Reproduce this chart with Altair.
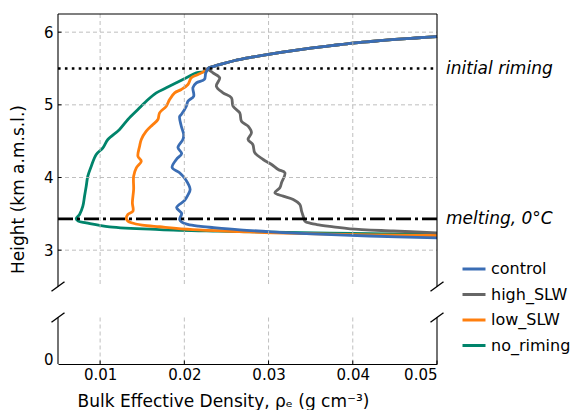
import altair as alt
import pandas as pd

series_names = ["control", "high_SLW", "low_SLW", "no_riming"]
series_colors = ["#3A6DB4", "#666666", "#FF7F0E", "#00846B"]
draw_order = ["no_riming", "low_SLW", "high_SLW", "control"]

# shared upper part (above the initial riming level)
top_x = [0.050, 0.0475, 0.045, 0.0425, 0.040, 0.0375, 0.035, 0.0325, 0.030, 0.028, 0.026, 0.0245, 0.0235, 0.0228]
top_y = [5.94, 5.92, 5.90, 5.875, 5.85, 5.815, 5.78, 5.74, 5.695, 5.655, 5.61, 5.565, 5.53, 5.50]

control_x = [0.02253, 0.02238, 0.02143, 0.02102, 0.02111, 0.02043, 0.02024, 0.01964, 0.01944, 0.01964,
             0.01992, 0.01983, 0.01924, 0.01968, 0.01905, 0.01855, 0.01944, 0.02015, 0.02069, 0.02039,
             0.02004, 0.01908, 0.01968, 0.01944, 0.0197, 0.0204, 0.0217, 0.0235, 0.0266, 0.0300,
             0.0337, 0.0420, 0.0500]
control_y = [5.431, 5.349, 5.303, 5.238, 5.119, 5.050, 4.981, 4.867, 4.839, 4.706,
             4.592, 4.523, 4.413, 4.330, 4.248, 4.138, 4.065, 3.972, 3.835, 3.752,
             3.684, 3.587, 3.505, 3.422, 3.385, 3.355, 3.33, 3.31, 3.28, 3.255,
             3.23, 3.195, 3.170]

high_x = [0.02340, 0.02420, 0.02380, 0.02459, 0.02559, 0.02578, 0.02658, 0.02678, 0.02757, 0.02797,
          0.02757, 0.02813, 0.02837, 0.02936, 0.03036, 0.03115, 0.03194, 0.03154, 0.03134, 0.03075,
          0.03174, 0.03293, 0.03372, 0.03392, 0.03412, 0.03432, 0.0350, 0.03571, 0.03769, 0.03967,
          0.04478, 0.0500]
high_y = [5.441, 5.372, 5.257, 5.166, 5.097, 4.981, 4.890, 4.775, 4.706, 4.615,
          4.523, 4.454, 4.340, 4.248, 4.179, 4.110, 4.065, 3.927, 3.858, 3.789,
          3.743, 3.697, 3.628, 3.536, 3.467, 3.399, 3.37, 3.353, 3.322, 3.294,
          3.264, 3.239]

low_x = [0.02241, 0.02162, 0.02083, 0.02043, 0.01964, 0.01885, 0.01825, 0.01786, 0.01706, 0.01686,
         0.01627, 0.01548, 0.01489, 0.01469, 0.01449, 0.01489, 0.01430, 0.01398, 0.01398, 0.01383,
         0.01390, 0.01330, 0.01311, 0.01330, 0.01371, 0.0150, 0.01707, 0.02102, 0.02658, 0.03054,
         0.04243, 0.0500]
low_y = [5.463, 5.417, 5.372, 5.280, 5.211, 5.165, 5.073, 4.981, 4.890, 4.798,
         4.729, 4.637, 4.523, 4.430, 4.293, 4.224, 4.133, 4.018, 3.835, 3.652,
         3.537, 3.491, 3.432, 3.400, 3.377, 3.345, 3.322, 3.284, 3.257, 3.239,
         3.209, 3.202]

norime_x = [0.02262, 0.02143, 0.02024, 0.01905, 0.01786, 0.01667, 0.01548, 0.01449, 0.01330, 0.01231,
            0.01092, 0.01033, 0.00954, 0.00895, 0.00854, 0.00835, 0.00815, 0.00795, 0.00756, 0.00716,
            0.00740, 0.00835, 0.01112, 0.01706, 0.0240, 0.0305, 0.0400, 0.0500]
norime_y = [5.463, 5.441, 5.372, 5.303, 5.234, 5.165, 5.050, 4.936, 4.798, 4.661,
            4.523, 4.409, 4.317, 4.156, 4.018, 3.880, 3.743, 3.605, 3.491, 3.432,
            3.400, 3.377, 3.322, 3.284, 3.262, 3.247, 3.230, 3.215]

riming_level = 5.5
melting_level = 3.43
annot_labels = ["initial riming", "melting, 0\u00b0C"]

x_ticks = [0.01, 0.02, 0.03, 0.04, 0.05]
y_ticks = [0, 3, 4, 5, 6]
grid_x = [0.01, 0.02, 0.03, 0.04]
grid_y = [3, 4, 5, 6]

# ---------------- layout constants (pixels) ----------------
W, H = 379, 350
TOP_END = 272.5      # bottom of upper panel
BOT_START = 303.5    # top of lower panel

rows = []
for name, xs, ys in [("control", control_x, control_y), ("high_SLW", high_x, high_y),
                     ("low_SLW", low_x, low_y), ("no_riming", norime_x, norime_y)]:
    allx = top_x + xs
    ally = top_y + ys
    for i, (a, b) in enumerate(zip(allx, ally)):
        rows.append({"series": name, "x": a, "y": b, "i": i})
df = pd.DataFrame(rows)

xscale = alt.Scale(domain=[0.005, 0.05], nice=False, zero=False)
# broken axis: lower panel [-0.05, 0.45], upper panel [2.5, 6.25]
yscale = alt.Scale(domain=[-0.05, 0.45, 2.5, 6.25], range=[H, BOT_START, TOP_END, 0], nice=False, zero=False)

XTITLE = "Bulk Effective Density, \u03c1\u2091 (g cm\u207b\u00b3)"
YTITLE = "Height (km a.m.s.l.)"

xaxis = alt.Axis(values=x_ticks, format=".2f", grid=False, ticks=False, domain=True,
                 domainColor="black", domainWidth=1, labelFontSize=15, labelPadding=3,
                 labelColor="black", title=XTITLE,
                 titleFontSize=17, titleFontWeight="normal", titleColor="black",
                 titleX=165, titleY=42, titleBaseline="alphabetic", titleAlign="center")
yaxis = alt.Axis(values=y_ticks, format="d", grid=False, ticks=False, domain=False,
                 labelFontSize=15, labelPadding=5, labelColor="black",
                 title=YTITLE, titleFontSize=17, titleFontWeight="normal",
                 titleColor="black", titleX=-40, titleY=175, titleBaseline="middle",
                 titleAlign="center")

legend = alt.Legend(orient="none", legendX=403, legendY=242, title=None, symbolType="stroke",
                    symbolStrokeWidth=3, symbolSize=529, labelFontSize=16, labelOffset=4,
                    rowPadding=4.5, padding=0, labelColor="black")

color = alt.Color("series:N", scale=alt.Scale(domain=series_names, range=series_colors), legend=legend)

one = pd.DataFrame({"k": [0]})
GRID = dict(color="#b8b8b8", strokeDash=[4, 3], strokeWidth=0.9)

gx = pd.DataFrame({"x": grid_x})
gy = pd.DataFrame({"y": grid_y})

X = alt.X("x:Q", scale=xscale, axis=xaxis, title=XTITLE)
Y = alt.Y("y:Q", scale=yscale, axis=yaxis, title=YTITLE)

grid_v_top = alt.Chart(gx).mark_rule(**GRID).encode(x=X, y=alt.value(0), y2=alt.value(TOP_END))
grid_v_bot = alt.Chart(gx).mark_rule(**GRID).encode(x=X, y=alt.value(BOT_START), y2=alt.value(H))
grid_h = alt.Chart(gy).mark_rule(**GRID).encode(y=Y, x=alt.value(0), x2=alt.value(W))

base = alt.Chart(df).mark_line(strokeWidth=2.8, interpolate="catmull-rom").encode(
    x=X, y=Y, color=color, order="i:Q")
line_layers = [base.transform_filter(alt.datum.series == s) for s in draw_order]

ref = pd.DataFrame({"y": [riming_level, melting_level], "label": annot_labels})
riming_rule = alt.Chart(ref.iloc[[0]]).mark_rule(color="black", strokeWidth=2.6, strokeDash=[2.6, 4.3]).encode(
    y=Y, x=alt.value(0), x2=alt.value(W))
melting_rule = alt.Chart(ref.iloc[[1]]).mark_rule(color="black", strokeWidth=2.6, strokeDash=[15, 4, 3, 4]).encode(
    y=Y, x=alt.value(0), x2=alt.value(W))
annot = alt.Chart(ref).mark_text(align="left", baseline="middle", fontStyle="italic", fontSize=17,
                                 color="black").encode(y=Y, x=alt.value(W + 9), text="label:N")

def seg(x1, y1, x2, y2, w=1.1):
    return alt.Chart(one).mark_rule(color="black", strokeWidth=w).encode(
        x=alt.value(x1), y=alt.value(y1), x2=alt.value(x2), y2=alt.value(y2))

spines = [
    seg(0, 0, W, 0),
    seg(0, 0, 0, TOP_END), seg(W, 0, W, TOP_END),
    seg(0, BOT_START, 0, H), seg(W, BOT_START, W, H),
    # break marks
    seg(-6.5, TOP_END + 4.7, 6.5, TOP_END - 4.7, 1.4),
    seg(W - 6.5, TOP_END + 4.7, W + 6.5, TOP_END - 4.7, 1.4),
    seg(-6.5, BOT_START + 4.7, 6.5, BOT_START - 4.7, 1.4),
    seg(W - 6.5, BOT_START + 4.7, W + 6.5, BOT_START - 4.7, 1.4),
]

ytick_marks = alt.Chart(gy).mark_rule(color="black", strokeWidth=1).encode(
    y=Y, x=alt.value(0), x2=alt.value(3.5))
xt = pd.DataFrame({"x": x_ticks})
xtick_marks = alt.Chart(xt).mark_rule(color="black", strokeWidth=1).encode(
    x=X, y=alt.value(H), y2=alt.value(H - 3.5))

chart = alt.layer(
    *line_layers,
    grid_v_top, grid_v_bot, grid_h,
    riming_rule, melting_rule, annot,
    *spines, ytick_marks, xtick_marks,
).properties(
    width=W, height=H,
    padding={"left": 50, "top": 6, "right": 136, "bottom": 46},
    autosize=alt.AutoSizeParams(type="none"),
).configure(font="DejaVu Sans").configure_view(stroke=None)

chart.save("out.html", embed_options={"renderer": "svg", "actions": False})
